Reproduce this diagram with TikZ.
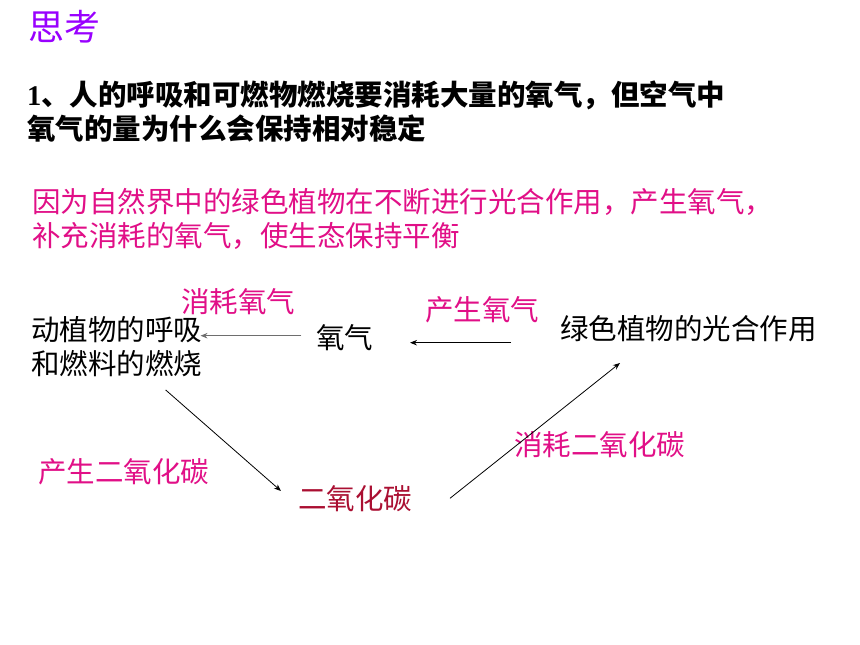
\documentclass[tikz,border=0pt]{standalone}
\usepackage{fontspec}
\setmainfont{Noto Sans CJK SC}
\newfontfamily\numserif{Liberation Serif}
\usetikzlibrary{arrows.meta}
\definecolor{titlepurple}{RGB}{153,0,255}
\definecolor{ansPink}{RGB}{225,15,135}
\definecolor{co2red}{RGB}{170,15,50}
\definecolor{arrgray}{RGB}{110,110,110}
\begin{document}
\begin{tikzpicture}[x=1pt,y=-1pt,
  txt/.style={anchor=west,inner sep=0pt,font=\fontsize{28.5}{33}\selectfont},
  pinktxt/.style={txt,text=ansPink},
  arr/.style={line width=0.8pt,-{Stealth[length=7pt,width=5.5pt]}},
  ]
\useasboundingbox[fill=white] (0,0) rectangle (860,645);
% title
\node[anchor=west,inner sep=0pt,text=titlepurple,font=\fontsize{36}{40}\selectfont] (title) at (28,27) {思考};
% question
\node[txt,font=\fontsize{28.5}{33}\selectfont\bfseries] (q1) at (27,95) {{\numserif 1}、人的呼吸和可燃物燃烧要消耗大量的氧气，但空气中};
\node[txt,font=\fontsize{28.5}{33}\selectfont\bfseries] (q2) at (27,128) {氧气的量为什么会保持相对稳定};
% answer
\node[pinktxt] (a1) at (32,202) {因为自然界中的绿色植物在不断进行光合作用，产生氧气，};
\node[pinktxt] (a2) at (32,236) {补充消耗的氧气，使生态保持平衡};
% diagram
\node[pinktxt] (lbl1) at (181,302) {消耗氧气};
\node[pinktxt] (lbl2) at (425,310) {产生氧气};
\node[txt] (resp1) at (31,330) {动植物的呼吸};
\node[txt] (resp2) at (31,364) {和燃料的燃烧};
\node[txt] (o2) at (316,338) {氧气};
\node[txt] (green) at (560,329) {绿色植物的光合作用};
\node[pinktxt] (lbl3) at (38,472) {产生二氧化碳};
\node[txt,text=co2red] (co2) at (298,499) {二氧化碳};
\node[pinktxt] (lbl4) at (514,445) {消耗二氧化碳};
% arrow end points
\coordinate (e1s) at (301,335.7);
\coordinate (e1e) at (200.5,335.7);
\coordinate (e2s) at (511,342.7);
\coordinate (e2e) at (410,342.7);
\coordinate (e3s) at (165.7,390);
\coordinate (e3e) at (281,491);
\coordinate (e4s) at (450,498.3);
\coordinate (e4e) at (620,363);
\draw[arr,draw=arrgray,fill=black] (e1s) -- (e1e);
\draw[arr] (e2s) -- (e2e);
\draw[arr] (e3s) -- (e3e);
\draw[arr] (e4s) -- (e4e);
\end{tikzpicture}
\end{document}
